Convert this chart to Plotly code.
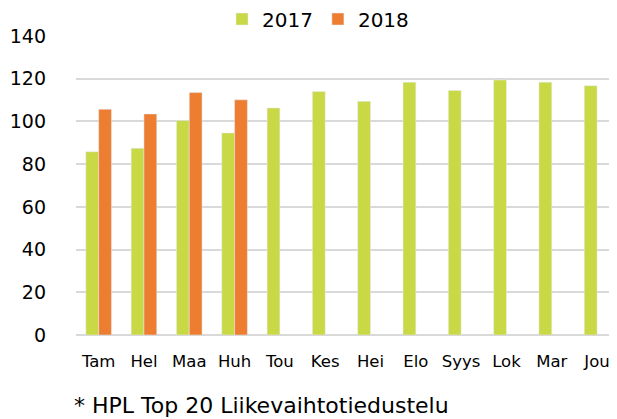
import plotly.graph_objects as go

months = ["Tam", "Hel", "Maa", "Huh", "Tou", "Kes", "Hei", "Elo", "Syys", "Lok", "Mar", "Jou"]
values_2017 = [85.8, 87.5, 100.4, 94.6, 106.3, 114.0, 109.4, 118.4, 114.5, 119.4, 118.4, 116.7]
values_2018 = [105.7, 103.5, 113.5, 110.1, None, None, None, None, None, None, None, None]
y_ticks = [0, 20, 40, 60, 80, 100, 120, 140]
footnote = "* HPL Top 20 Liikevaihtotiedustelu"

FONT = "DejaVu Sans"
OFF = 8  # default page body margin
W, H = 617 - OFF, 419 - OFF
TOP, BOTTOM_Y, LEFT = 36 - OFF, 335 - OFF, 76 - OFF
PH = BOTTOM_Y - TOP
PW = W - LEFT

fig = go.Figure()
fig.add_trace(go.Bar(name="2017", x=months, y=values_2017, marker_color="#C9D845"))
fig.add_trace(go.Bar(name="2018", x=months, y=values_2018, marker_color="#ED7D31"))

fig.update_layout(
    width=W, height=H,
    margin=dict(l=LEFT, r=0, t=TOP, b=H - BOTTOM_Y, autoexpand=False),
    barmode="group", bargap=0.435, bargroupgap=0,
    plot_bgcolor="white", paper_bgcolor="white",
    font=dict(family=FONT, color="#000000"),
    showlegend=True,
    legend=dict(orientation="h", x=(214 - LEFT) / PW, xanchor="left",
                y=(BOTTOM_Y - 11) / PH, yanchor="middle",
                font=dict(size=20, family=FONT), itemwidth=30, tracegroupgap=0,
                bgcolor="rgba(0,0,0,0)"),
    xaxis=dict(range=[-0.5, 11.44], showgrid=False, showline=False, ticks="",
               ticklabelstandoff=14, tickfont=dict(size=16.5, family=FONT)),
    yaxis=dict(range=[0, 140], tickvals=y_ticks, showgrid=True, gridcolor="#D9D9D9",
               gridwidth=2, zeroline=True, zerolinecolor="#D9D9D9", zerolinewidth=2,
               showline=False, ticks="", ticklabelstandoff=29,
               tickfont=dict(size=19, family=FONT)),
    annotations=[dict(text=footnote, xref="paper", yref="paper",
                      x=(64 - LEFT) / PW, y=-(397 - BOTTOM_Y) / PH, xanchor="left", yanchor="middle",
                      showarrow=False, font=dict(size=22, family=FONT))],
)

fig.write_html("out.html")
